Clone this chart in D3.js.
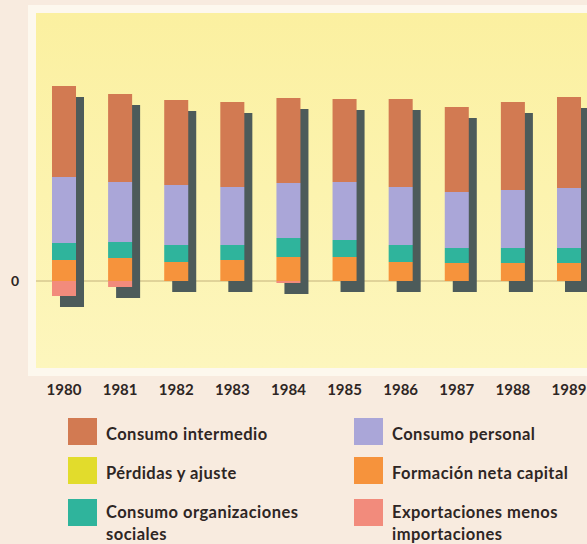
<!DOCTYPE html>
<html>
<head>
<meta charset="utf-8">
<script src="https://cdn.jsdelivr.net/npm/d3@7"></script>
<style>
  html, body { margin: 0; padding: 0; background: #f8ebdf; }
  svg { display: block; }
  text { font-family: Lato, "Open Sans", sans-serif; font-weight: 700; fill: #2e2624; }
</style>
</head>
<body>
<svg id="chart" width="587" height="544"></svg>
<script>
// Years shown on the horizontal axis
const years = ["1980", "1981", "1982", "1983", "1984", "1985", "1986", "1987", "1988", "1989"];

// Components of each year's bar (arbitrary units, zero = baseline)
const consumoIntermedio   = [45.5, 44, 42.5, 42.5, 42.5, 41.5, 44, 42.5, 44, 45.5];
const perdidasAjuste      = [0, 0, 0, 0, 0, 0, 0, 0, 0, 0];
const consumoPersonal     = [33, 30, 30, 29, 27.5, 29, 29, 28, 29, 30];
const consumoOrganizaciones = [8.5, 8, 8.5, 7.5, 9.5, 8.5, 8.5, 7.5, 7.5, 7.5];
const formacionNetaCapital = [10.5, 11.5, 9.5, 10.5, 12, 12, 9.5, 9, 9, 9];
const exportacionesMenosImportaciones = [-7.5, -3, 0, 0, -1, 0, 0, 0, 0, 0];

// Stack order from the baseline upward
const seriesKeys = ["formacion", "organizaciones", "personal", "perdidas", "intermedio", "exportaciones"];
const seriesValues = {
  formacion: formacionNetaCapital,
  organizaciones: consumoOrganizaciones,
  personal: consumoPersonal,
  perdidas: perdidasAjuste,
  intermedio: consumoIntermedio,
  exportaciones: exportacionesMenosImportaciones
};
const seriesColors = {
  intermedio: "#d27a52",
  personal: "#aaa6d8",
  perdidas: "#e2dc2c",
  formacion: "#f6933c",
  organizaciones: "#2fb49c",
  exportaciones: "#f28b7c"
};

// Legend entries, two columns
const legendItems = [
  { key: "intermedio", lines: ["Consumo intermedio"], col: 0, row: 0 },
  { key: "perdidas", lines: ["Pérdidas y ajuste"], col: 0, row: 1 },
  { key: "organizaciones", lines: ["Consumo organizaciones", "sociales"], col: 0, row: 2 },
  { key: "personal", lines: ["Consumo personal"], col: 1, row: 0 },
  { key: "formacion", lines: ["Formación neta capital"], col: 1, row: 1 },
  { key: "exportaciones", lines: ["Exportaciones menos", "importaciones"], col: 1, row: 2 }
];
const yTickValues = [0];

const table = years.map((y, i) => {
  const row = { year: y };
  seriesKeys.forEach(k => row[k] = seriesValues[k][i]);
  return row;
});

const svg = d3.select("#chart");

// Paper frame and plotting panel
const panel = { x0: 36, x1: 587, y0: 13, y1: 368 };
svg.append("rect").attr("x", 28).attr("y", 5).attr("width", 587 - 28).attr("height", 376 - 5)
  .attr("fill", "#fdf8ee");

const defs = svg.append("defs");
const grad = defs.append("linearGradient").attr("id", "panelFill")
  .attr("x1", 0).attr("y1", 0).attr("x2", 0).attr("y2", 1);
grad.append("stop").attr("offset", "0%").attr("stop-color", "#fbf0a0");
grad.append("stop").attr("offset", "100%").attr("stop-color", "#fdf6bd");
svg.append("rect").attr("x", panel.x0).attr("y", panel.y0)
  .attr("width", panel.x1 - panel.x0).attr("height", panel.y1 - panel.y0)
  .attr("fill", "url(#panelFill)");

// Scales
const x = d3.scaleBand().domain(years).range([36, 597]).paddingInner(0.572).paddingOuter(0.285);
const y = d3.scaleLinear().domain([-44, 134]).range([369, 13]);

const stacked = d3.stack().keys(seriesKeys).offset(d3.stackOffsetDiverging)(table);

// Zero line
svg.append("line").attr("x1", panel.x0).attr("x2", panel.x1)
  .attr("y1", y(0)).attr("y2", y(0))
  .attr("stroke", "#c4b27c").attr("stroke-width", 1);

// Drop shadows behind each full bar
const shadowDx = 8, shadowDy = 11;
const extent = years.map((yr, i) => {
  let lo = 0, hi = 0;
  stacked.forEach(s => { lo = Math.min(lo, s[i][0], s[i][1]); hi = Math.max(hi, s[i][0], s[i][1]); });
  return { year: yr, lo, hi };
});
svg.append("g").selectAll("rect").data(extent).join("rect")
  .attr("x", d => x(d.year) + shadowDx)
  .attr("y", d => y(d.hi) + shadowDy)
  .attr("width", x.bandwidth())
  .attr("height", d => y(d.lo) - y(d.hi))
  .attr("fill", "#4d5b5a");

// Stacked segments
svg.append("g").selectAll("g").data(stacked).join("g")
  .attr("fill", s => seriesColors[s.key])
  .selectAll("rect").data(s => s).join("rect")
  .attr("x", d => x(d.data.year))
  .attr("y", d => y(Math.max(d[0], d[1])))
  .attr("width", x.bandwidth())
  .attr("height", d => Math.abs(y(d[0]) - y(d[1])));

// Year labels
const xAxis = d3.axisBottom(x).tickSize(0).tickPadding(0);
const gx = svg.append("g").attr("transform", "translate(0,384)").call(xAxis);
gx.select(".domain").remove();
gx.selectAll("text").attr("dy", "0.75em").style("font-size", "15px")
  .style("font-family", "Lato, sans-serif").style("font-weight", 700).attr("fill", "#2e2624");

// Zero label on the left
const yAxis = d3.axisLeft(y).tickValues(yTickValues).tickSize(0).tickPadding(0);
const gy = svg.append("g").attr("transform", "translate(19,0)").call(yAxis);
gy.select(".domain").remove();
gy.selectAll("text").style("font-size", "14px").style("font-family", "Lato, sans-serif")
  .style("font-weight", 700).attr("fill", "#2e2624");

// Legend
const colX = [68, 354], rowY = [418, 457, 499];
const legend = svg.append("g").selectAll("g").data(legendItems).join("g")
  .attr("transform", d => `translate(${colX[d.col]},${rowY[d.row]})`);
legend.append("rect").attr("width", 29).attr("height", 27)
  .attr("fill", d => seriesColors[d.key]);
legend.each(function(d) {
  const g = d3.select(this);
  const base = d.lines.length > 1 ? 19 : 22;
  d.lines.forEach((ln, j) => {
    g.append("text").attr("x", 38).attr("y", base + j * 22)
      .style("font-size", "16.5px").style("letter-spacing", "0.45px").text(ln);
  });
});
</script>
</body>
</html>
